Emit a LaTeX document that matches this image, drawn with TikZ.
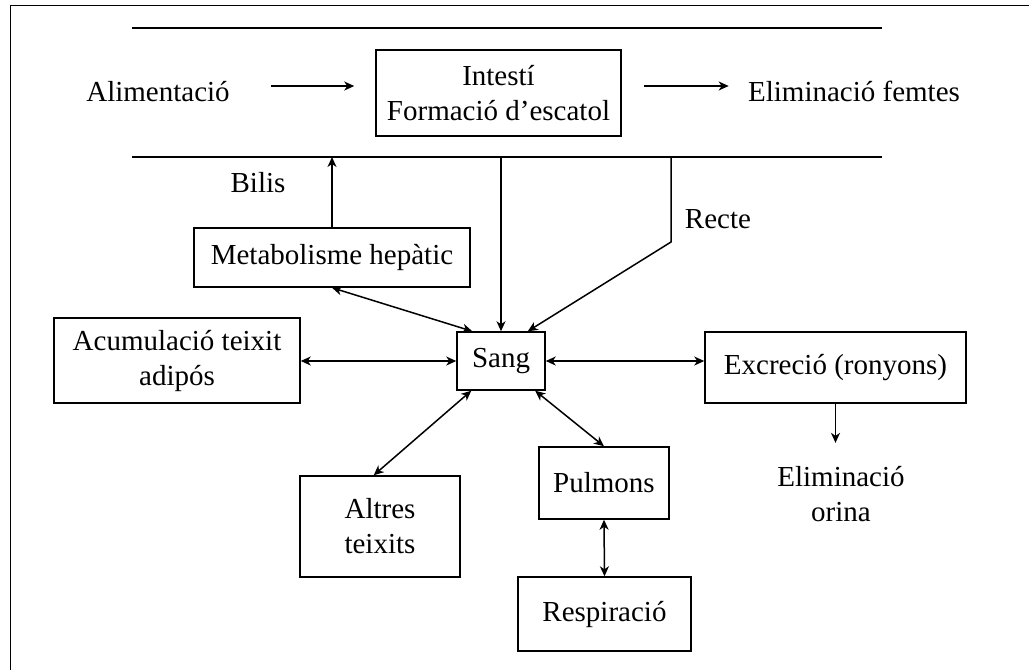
\documentclass[tikz,border=0pt]{standalone}
\usepackage{fontspec}
\setmainfont{Liberation Serif}
\usetikzlibrary{arrows.meta}

\begin{document}
\begin{tikzpicture}[x=0.5pt,y=-0.5pt,line width=0.75pt,
	>={Stealth[length=5pt,width=4.5pt,inset=1.5pt]},
	every node/.style={font=\fontsize{14.5}{17.5}\selectfont,align=center},
	caixa/.style={draw,inner sep=0pt}]
	\useasboundingbox (0,0) rectangle (1029,670);
	\draw[line width=0.5pt] (10,670) -- (10,5) -- (1029,5);
	% intesti
	\draw (132,28) -- (882,28);
	\coordinate (l1) at (132,157);
	\coordinate (r1) at (882,157);
	\draw (l1) -- (r1);
	\node[caixa,minimum width=122.5pt,minimum height=43pt] (intesti) at (498.5,93) {Intestí\\Formació d’escatol};
	\node[anchor=base] (alim) at (158,101) {Alimentació};
	\node[anchor=base] (femtes) at (854,101) {Eliminació femtes};
	\draw[->,shorten <=17pt,shorten >=10.5pt] (alim.east |- 0,86) -- (intesti.west |- 0,86);
	\draw[->,shorten <=11pt,shorten >=6pt] (intesti.east |- 0,86) -- (femtes.west |- 0,86);
	% nodes
	\node[caixa,minimum width=44pt,minimum height=29pt] (sang) at (501,361) {Sang};
	\node[caixa,minimum width=138pt,minimum height=29.5pt] (metab) at (332,257.5) {Metabolisme hepàtic};
	\node[caixa,minimum width=123pt,minimum height=42.5pt] (acum) at (177,360.5) {Acumulació teixit\\adipós};
	\node[caixa,minimum width=130.5pt,minimum height=35.5pt] (excr) at (835.5,367.5) {Excreció (ronyons)};
	\node[caixa,minimum width=80pt,minimum height=50.5pt] (altres) at (380,526.5) {Altres\\teixits};
	\node[caixa,minimum width=65pt,minimum height=36pt] (pulmons) at (604,483) {Pulmons};
	\node[caixa,minimum width=86.5pt,minimum height=37pt] (resp) at (604.5,614) {Respiració};
	\node (orina) at (841,494) {Eliminació\\orina};
	\node[anchor=base] (bilis) at (258,192) {Bilis};
	\node[anchor=base] (recte) at (718,228) {Recte};
	\coordinate (rk) at (671,242);
	% connectors
	\draw[->] (metab.north) -- (metab.north |- l1);
	\draw[->] (sang.north |- l1) -- (sang.north);
	\draw[->] (rk |- l1) -- (rk) -- (sang.48);
	\draw[<->] (metab.south) -- (sang.134);
	\draw[<->] (acum.east |- sang.west) -- (sang.west);
	\draw[<->] (sang.east) -- (sang.east -| excr.west);
	\draw[->,shorten >=8pt] (excr.south) -- (excr.south |- orina.north);
	\draw[<->] (sang.225) -- (altres.97);
	\draw[<->] (sang.-41) -- (pulmons.north);
	\draw[<->] (pulmons.south) -- (resp.north);
\end{tikzpicture}
\end{document}
